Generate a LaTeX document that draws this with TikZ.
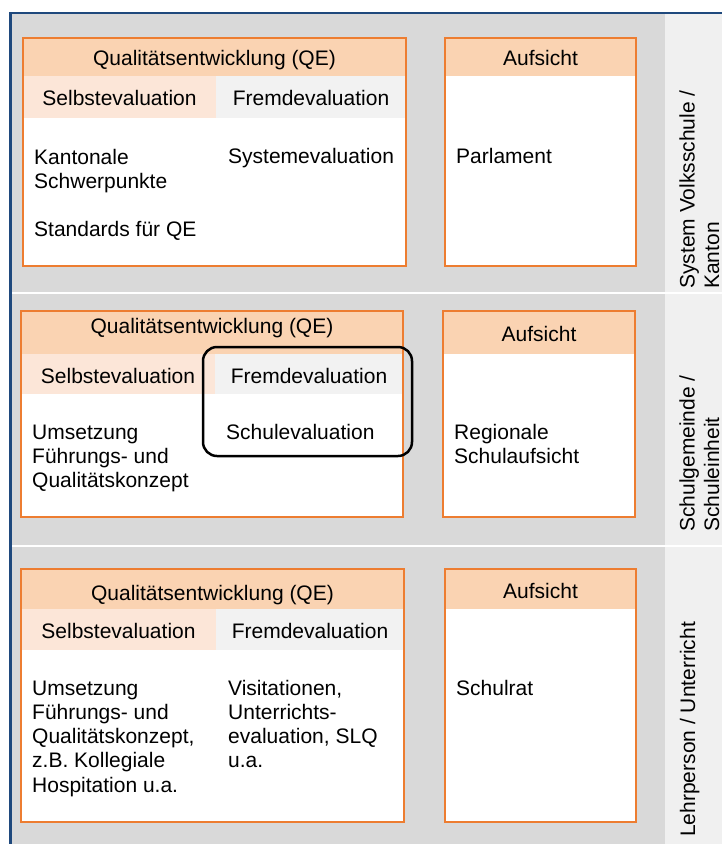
\documentclass[tikz,border=0pt]{standalone}
\usepackage{fontspec}
\setmainfont{Liberation Sans}
\definecolor{bgray}{HTML}{D9D9D9}
\definecolor{strip}{HTML}{F0F0F0}
\definecolor{frameblue}{HTML}{1F497D}
\definecolor{boxorange}{HTML}{ED7D31}
\definecolor{headpeach}{HTML}{FAD3B2}
\definecolor{selbstpeach}{HTML}{FCE6D8}
\definecolor{fremdgray}{HTML}{F2F2F2}
\newcommand\dfont{\fontsize{21}{24.3}\selectfont}
\begin{document}
\begin{tikzpicture}[x=1pt,y=-1pt,
  txt/.style={anchor=base west, inner sep=0pt, align=left, font=\dfont},
  head/.style={anchor=base, inner sep=0pt, font=\dfont},
  side/.style={rotate=90, anchor=base west, inner sep=0pt, align=left, font=\dfont},
  boxline/.style={draw=boxorange, line width=1.5pt},
  sep/.style={draw=white, line width=2.5pt}]
\useasboundingbox (0,0) rectangle (722,844);
% background
\fill[bgray] (12,14) rectangle (665,844);
\fill[strip] (665,14) rectangle (722,844);
\draw[sep] (12,293) -- (722,293);
\draw[sep] (12,546) -- (722,546);
\draw[frameblue, line width=2pt] (9,13) -- (722,13);
\draw[frameblue, line width=3pt] (10.5,12) -- (10.5,844);

% ---------- Row 1 ----------
\fill[white] (23,38) rectangle (406,266);
\fill[headpeach] (23,38) rectangle (406,76);
\fill[selbstpeach] (23,76) rectangle (216,118);
\fill[fremdgray] (216,76) rectangle (406,118);
\draw[boxline] (23,38) rectangle (406,266);
\fill[white] (445,38) rectangle (636,266);
\fill[headpeach] (445,38) rectangle (636,76);
\draw[boxline] (445,38) rectangle (636,266);
\node[head] (qe1) at (214.5,65) {Qualitätsentwicklung (QE)};
\node[head] (se1) at (119.5,105) {Selbstevaluation};
\node[head] (fe1) at (311,105) {Fremdevaluation};
% base anchor of a multi-line node = baseline of its last line
\node[txt] (kan) at (34,236.9) {Kantonale\\Schwerpunkte\\[24.3pt]Standards für QE};
\node[txt] (sys) at (228,163) {Systemevaluation};
\node[head] (au1) at (540.5,65) {Aufsicht};
\node[txt] (par) at (456,163) {Parlament};
\node[side] (lab1) at (719,289) {System Volksschule /\\Kanton};

% ---------- Row 2 ----------
\fill[white] (21,311) rectangle (403,517);
\fill[headpeach] (21,311) rectangle (403,354);
\fill[selbstpeach] (21,354) rectangle (215,394);
\fill[fremdgray] (215,354) rectangle (403,394);
\draw[boxline] (21,311) rectangle (403,517);
\fill[white] (443,311) rectangle (635,517);
\fill[headpeach] (443,311) rectangle (635,354);
\draw[boxline] (443,311) rectangle (635,517);
\node[head] (qe2) at (212,333) {Qualitätsentwicklung (QE)};
\node[head] (se2) at (118,383) {Selbstevaluation};
\node[head] (fe2) at (309,383) {Fremdevaluation};
\node[txt] (ums2) at (32,487.6) {Umsetzung\\Führungs- und\\Qualitätskonzept};
\node[txt] (sch2) at (226,439) {Schulevaluation};
\node[head] (au2) at (539,341) {Aufsicht};
\node[txt] (reg) at (454,463.3) {Regionale\\Schulaufsicht};
\draw[black, line width=2.5pt, rounded corners=14pt] (203,347) rectangle (412,456);
\node[side] (lab2) at (719,532) {Schulgemeinde /\\Schuleinheit};

% ---------- Row 3 ----------
\fill[white] (21,569) rectangle (404,822);
\fill[headpeach] (21,569) rectangle (404,609);
\fill[selbstpeach] (21,609) rectangle (216,650);
\fill[fremdgray] (216,609) rectangle (404,650);
\draw[boxline] (21,569) rectangle (404,822);
\fill[white] (445,569) rectangle (636,822);
\fill[headpeach] (445,569) rectangle (636,609);
\draw[boxline] (445,569) rectangle (636,822);
\node[head] (qe3) at (212.5,600) {Qualitätsentwicklung (QE)};
\node[head] (se3) at (118.5,638) {Selbstevaluation};
\node[head] (fe3) at (310,638) {Fremdevaluation};
\node[txt] (ums3) at (32,792.2) {Umsetzung\\Führungs- und\\Qualitätskonzept,\\z.B. Kollegiale\\Hospitation u.a.};
\node[txt] (vis) at (228,767.9) {Visitationen,\\Unterrichts-\\evaluation, SLQ\\u.a.};
\node[head] (au3) at (540.5,598) {Aufsicht};
\node[txt] (rat) at (456,695) {Schulrat};
\node[side] (lab3) at (695,837) {Lehrperson / Unterricht};
\end{tikzpicture}
\end{document}
